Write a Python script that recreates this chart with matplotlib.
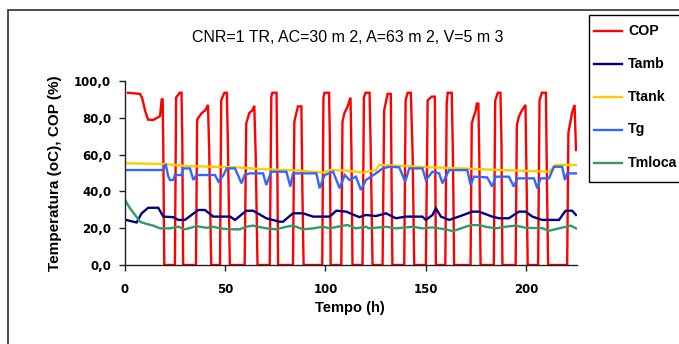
import matplotlib
matplotlib.use('Agg')
import matplotlib.pyplot as plt
from matplotlib.patches import Rectangle
from matplotlib.lines import Line2D
from matplotlib.ticker import FuncFormatter

# ---------------- data ----------------
title = "CNR=1 TR, AC=30 m 2, A=63 m 2, V=5 m 3"
# the last legend label is shown cut at the image edge in the reference ("Tmloca")
series_names = ["COP", "Tamb", "Ttank", "Tg", "Tmloca"]
series_colors = ["#FF0000", "#000080", "#FFCC00", "#3366FF", "#339966"]

cop_t = [1.5, 7.5, 8.5, 10, 11.5, 14, 16.5, 17.5, 18.3, 18.8, 19.1, 19.6,
         24.9, 25.5, 27.3, 28.2, 28.6, 29,
         35.4, 36, 38.2, 40, 41.4, 42, 43,
         47.4, 48, 49.6, 50.8, 51.3, 52.3,
         59.7, 60.5, 62, 63.5, 64.5, 65.2, 66.1,
         72.2, 73, 73.5, 75.6, 76, 76.4,
         83.8, 84.5, 85.5, 86.3, 88, 88.5, 89.1,
         98.4, 99, 99.5, 101.8, 102.2, 102.6,
         107.9, 108.5, 109.5, 111, 112.5, 113, 113.5,
         118.5, 119.2, 120, 122, 122.5, 123.5,
         128.5, 129.3, 131, 132.6, 133, 133.4,
         139.3, 140, 141, 142.6, 143.5, 144.3,
         150.1, 151, 153, 154.6, 155.1,
         159.8, 160.5, 161, 163, 163.6, 164.2,
         172.4, 173, 174, 175, 175.5, 176.3, 176.8, 177.4,
         184, 184.7, 186, 187.3, 187.8, 188.3,
         194.9, 195.5, 196.5, 198, 199.8, 200.3, 200.9,
         206.1, 206.8, 208, 210, 210.5, 211.1,
         220.6, 221.2, 223, 224.3, 225]
cop_v = [93.6, 93, 91, 84, 79, 78.8, 80.3, 81, 90, 90, 64, 0,
         0, 91, 93.6, 93.6, 67, 0,
         0, 79, 82.5, 84, 87, 62.5, 0,
         0, 89.5, 93.6, 93.6, 68, 0,
         0, 77, 82.6, 84, 86.5, 60, 0,
         0, 91.6, 93.6, 93.6, 52, 0,
         0, 78, 82.6, 86.2, 86.2, 40, 0,
         0, 91, 93.6, 93.6, 69, 0,
         0, 78, 82.6, 86, 91, 60, 0,
         0, 91, 93.6, 93.6, 68, 0,
         0, 84, 93, 93, 45, 0,
         0, 89.5, 93.6, 93.6, 60, 0,
         0, 89.5, 91.5, 91.5, 0,
         0, 88, 93.6, 93.6, 60, 0,
         0, 77, 80.7, 84, 87.7, 87.7, 55, 0,
         0, 89.5, 93.6, 93.6, 68, 0,
         0, 76, 80.7, 84, 87, 50, 0,
         0, 89.5, 93.6, 93.6, 45, 0,
         0, 71.8, 82.6, 87, 62.5]

tamb_t = [0.5, 5.8, 8.3, 11.6, 16.6, 19.1, 24.1, 26.6, 29.9, 33.2, 36.6, 39.9,
          44, 52.4, 54.9, 60.5, 63.9, 70.5, 77.2, 78.8, 83.8, 88.8, 93.8,
          102.1, 105.4, 110.4, 116.9, 120.2, 125.2, 130.2, 135.1, 140.1,
          148.4, 150.1, 153.4, 155.1, 157.6, 161.7, 166.6, 173.2, 176.6,
          183.2, 186.6, 191.5, 196.5, 199.9, 203.2, 208.2, 216.5, 219.8,
          223.1, 225]
tamb_v = [24.5, 23.1, 28.1, 31.1, 31.1, 26.3, 26.0, 24.5, 24.5, 27.2, 29.9, 29.9,
          26.3, 26.3, 24.5, 29.5, 29.5, 25.4, 23.5, 23.5, 28.1, 28.1, 26.3,
          26.3, 29.5, 29.0, 26.0, 27.2, 26.6, 28.1, 25.4, 26.3,
          26.3, 24.5, 27.2, 30.8, 26.3, 24.5, 26.3, 29.0, 29.0,
          26.3, 25.4, 25.4, 29.0, 29.0, 26.3, 24.5, 24.5, 29.5,
          29.5, 27.2]

ttank_t = [0, 19.1, 30.7, 54.9, 70.5, 87.2, 98.8, 102.1, 111.2, 118.5, 125.2,
           126.8, 140.1, 151.8, 167.6, 188.2, 211.5, 214.8, 225]
ttank_v = [55.3, 54.9, 53.8, 53.1, 52.0, 51.3, 50.2, 51.6, 51.3, 50.2, 51.6,
           54.4, 53.8, 53.1, 52.5, 51.6, 50.7, 54.4, 54.4]

tg_t = [0, 19.1, 20.3, 21.6, 22.4, 24.1, 24.9, 28.3, 29.1, 32.4, 34.1, 35.7,
        44.9, 46.6, 49.1, 50.8, 54.9, 58.1, 59.7, 62.2, 68.9, 70.5, 73,
        80.5, 82.5, 83.8, 95.5, 97.1, 99.6, 103.8, 107.1, 109.6, 112, 115.2,
        117.7, 120.2, 125.2, 128.5, 131.8, 136.8, 139.8, 141.8, 148.4, 150.1,
        153.4, 156.7, 158.4, 161.7, 170.8, 172.4, 174.1, 180.7, 183.2, 184.9,
        191.5, 194, 195.7, 204, 205.7, 207.3, 211.5, 214, 218.1, 219.5,
        220.6, 225]
tg_v = [51.6, 51.6, 54.9, 48.0, 46.2, 46.2, 48.9, 48.9, 52.5, 52.5, 46.2, 48.9,
        48.9, 45.3, 48.9, 52.5, 52.5, 44.4, 48.9, 49.8, 49.8, 43.5, 50.7,
        50.7, 42.6, 49.8, 49.8, 41.7, 48.9, 50.7, 41.7, 48.9, 46.2, 48.0,
        40.8, 46.2, 49.8, 52.5, 53.4, 53.1, 45.3, 52.5, 52.5, 46.2,
        50.7, 49.8, 44.4, 51.6, 51.6, 43.5, 48.0, 47.6, 42.6, 48.0,
        48.0, 42.6, 47.1, 47.1, 41.7, 47.1, 47.1, 53.4, 53.4, 46.2,
        49.8, 49.8]

tml_t = [0, 2.5, 5, 7.5, 10.8, 14.1, 17.5, 22.4, 26.6, 29.9, 35.7, 40.7, 44,
         47.4, 52.4, 57.2, 60.5, 63.9, 70.5, 75.5, 80.5, 83.8, 88.8, 93.8,
         98.8, 102.1, 108.8, 111.2, 115.2, 120.2, 121.8, 130.2, 135.1, 143.5,
         148.4, 153.4, 160.1, 163.4, 167.6, 169.9, 173.2, 176.6, 179.9, 184.9,
         189.9, 194.9, 199.9, 208.2, 211.5, 216.5, 222.3, 225]
tml_v = [35.3, 30.8, 27.2, 23.5, 22.3, 21.4, 19.9, 19.9, 20.8, 19.4, 21.1, 20.2,
         20.8, 19.9, 19.4, 19.4, 20.8, 21.4, 19.9, 19.4, 20.8, 21.4, 19.4, 19.9,
         20.8, 19.9, 21.4, 21.7, 19.9, 20.8, 19.9, 20.8, 19.9, 20.8, 19.9, 20.4,
         19.4, 18.4, 19.9, 20.8, 21.7, 21.7, 20.8, 19.9, 20.8, 21.4, 20.2, 20.0,
         18.6, 19.9, 21.4, 19.9]

x_ticks = [0, 50, 100, 150, 200]
y_ticks = [0, 20, 40, 60, 80, 100]
x_label = "Tempo (h)"
y_label = "Temperatura (oC), COP (%)"

# ---------------- figure ----------------
W, H = 679, 344
fig = plt.figure(figsize=(W / 100, H / 100), dpi=100)
fig.patch.set_facecolor('white')

def fx(px):
    return px / W

def fy(py):
    return 1 - py / H

ax = fig.add_axes([fx(125), fy(265), fx(577) - fx(125), fy(81) - fy(265)])

xs = [cop_t, tamb_t, ttank_t, tg_t, tml_t]
ys = [cop_v, tamb_v, ttank_v, tg_v, tml_v]
for x, y, c, n in zip(xs, ys, series_colors, series_names):
    ax.plot(x, y, color=c, lw=1.7, label=n, solid_joinstyle='miter')

ax.set_xlim(0, 225.5)
ax.set_ylim(0, 100)
ax.set_xticks(x_ticks)
ax.set_yticks(y_ticks)
ax.yaxis.set_major_formatter(FuncFormatter(lambda v, p: f"{v:.1f}".replace('.', ',')))
for s in ['top', 'right']:
    ax.spines[s].set_visible(False)
for s in ['left', 'bottom']:
    ax.spines[s].set_color('#202020')
    ax.spines[s].set_linewidth(1.0)
ax.tick_params(direction='out', length=4, width=1, color='#202020')
ax.tick_params(axis='y', pad=6)
ax.tick_params(axis='x', pad=9)
for lab in ax.get_xticklabels() + ax.get_yticklabels():
    lab.set_fontfamily('DejaVu Sans')
    lab.set_fontweight('bold')
    lab.set_fontsize(8.5)

# titles
fig.text(fx(348), fy(37), title, ha='center', va='center',
         family='Liberation Sans', fontsize=11.5)
fig.text(fx(55), fy(173), y_label, ha='center', va='center', rotation=90,
         family='Liberation Sans', fontweight='bold', fontsize=11)
fig.text(fx(350), fy(308), x_label, ha='center', va='center',
         family='Liberation Sans', fontweight='bold', fontsize=10.5)

# outer chart border (extends past the right/bottom edge, as in the reference)
fig.add_artist(Rectangle((fx(8), fy(400)), 2.0, fy(10) - fy(400),
                         transform=fig.transFigure, fill=False,
                         edgecolor='#303030', lw=1.2))

# legend box (also cut by the right edge)
fig.add_artist(Rectangle((fx(589), fy(181.5)), 0.5, fy(15) - fy(181.5),
                         transform=fig.transFigure, fill=False,
                         edgecolor='black', lw=1.0))
leg_y = [31, 64, 97, 129.5, 163]
for n, c, py in zip(series_names, series_colors, leg_y):
    fig.add_artist(Line2D([fx(594), fx(622)], [fy(py), fy(py)],
                          transform=fig.transFigure, color=c, lw=1.7))
    fig.text(fx(628), fy(py), n, ha='left', va='center',
             family='Liberation Sans', fontweight='bold', fontsize=10.2)

fig.savefig('out.png', dpi=100)
